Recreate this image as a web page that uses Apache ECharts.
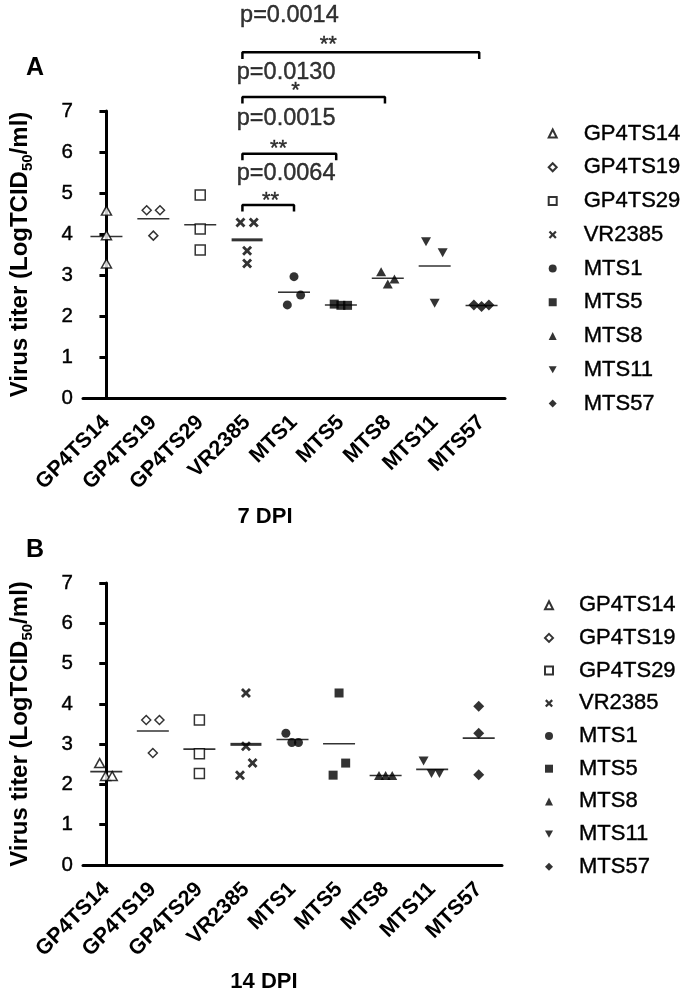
<!DOCTYPE html>
<html><head><meta charset="utf-8">
<script src="https://cdn.jsdelivr.net/npm/echarts@6/dist/echarts.min.js"></script>
<style>html,body{margin:0;padding:0;background:#fff}#c{width:691px;height:997px}</style>
</head><body><div id="c"></div>
<script>
const categories = ['GP4TS14','GP4TS19','GP4TS29','VR2385','MTS1','MTS5','MTS8','MTS11','MTS57'];
const yMin = 0, yMax = 7, yStep = 1;

// 7 DPI (panel A) values, log TCID50/ml
const a_GP4TS14 = [4.57, 3.97, 3.28];
const a_GP4TS19 = [4.58, 4.58, 3.96];
const a_GP4TS29 = [4.95, 4.12, 3.61];
const a_VR2385  = [4.28, 4.28, 3.59, 3.28];
const a_MTS1    = [2.96, 2.51, 2.27];
const a_MTS5    = [2.29, 2.26, 2.26];
const a_MTS8    = [3.08, 2.78, 2.90];
const a_MTS11   = [3.81, 3.54, 2.31];
const a_MTS57   = [2.27, 2.23, 2.27];

// 14 DPI (panel B) values
const b_GP4TS14 = [2.53, 2.21, 2.21];
const b_GP4TS19 = [3.60, 3.60, 2.78];
const b_GP4TS29 = [3.60, 2.76, 2.27];
const b_VR2385  = [4.27, 2.95, 2.53, 2.23];
const b_MTS1    = [3.27, 3.04, 3.04];
const b_MTS5    = [4.27, 2.53, 2.23];
const b_MTS8    = [2.22, 2.22, 2.22];
const b_MTS11   = [2.58, 2.27, 2.27];
const b_MTS57   = [3.94, 3.27, 2.24];

// significance annotations (panel A), VR2385 vs others
const sigFrom = 'VR2385';
const sigTo = ['MTS1', 'MTS5', 'MTS8', 'MTS57'];
const sigP = ['p=0.0064', 'p=0.0015', 'p=0.0130', 'p=0.0014'];
const sigStars = ['**', '**', '*', '**'];

// ---- layout (not data) ----
const valuesA = [a_GP4TS14,a_GP4TS19,a_GP4TS29,a_VR2385,a_MTS1,a_MTS5,a_MTS8,a_MTS11,a_MTS57];
const valuesB = [b_GP4TS14,b_GP4TS19,b_GP4TS29,b_VR2385,b_MTS1,b_MTS5,b_MTS8,b_MTS11,b_MTS57];
// horizontal spreading of points within a column (in slots)
const spreadA = [[0,0,0],[-1,1,0],[0,0,0],[-1,1,0,0],[0,1,-1],[-1,0,1],[-1,0,1],[-1.3,1.2,0],[-1.15,0,1.1]];
const spreadB = [[-1,-0.1,0.9],[-1,1,0],[0,0,0],[0,0,1,-0.9],[-1,-0.1,0.9],[0,1,-0.9],[-1,0,1],[-1.3,-0.1,1.1],[0,0,0]];
const SLOT = 0.142;
const bracketLevel = [4.71, 5.96, 7.34, 8.43];
const bracketEndInset = [0.0, -0.1, -0.06, -0.05];
const pLevel = [5.48, 6.82, 7.93, 9.34];
const pX = [-0.22, -0.22, -0.22, -0.15];
const starLevel = [4.81, 6.07, 7.5, 8.6];
const starX = [3.5, 3.67, 4.03, 4.73];

const FONT = 'Liberation Sans, Arial, Helvetica, sans-serif';
const XPATH = 'path://M0,2 L2,0 L5,3 L8,0 L10,2 L7,5 L10,8 L8,10 L5,7 L2,10 L0,8 L3,5 Z';
const INVTRI = 'path://M0,0 L10,0 L5,9 Z';
const symbols = ['triangle','diamond','rect',XPATH,'circle','rect','triangle',INVTRI,'diamond'];
const symSizes = [[10,9],[9,9],[10,10],[10,10],[9,9],[9,9],[10,9],[10,9],[11,11]];
const openSym = [true,true,true,false,false,false,false,false,false];
const DARK = {textBorderColor:'#000', textBorderWidth:0.4};

const mean = a => a.reduce((s,v)=>s+v,0)/a.length;

const series = [];
function addPanel(values, spread, xIdx, yIdx) {
  categories.forEach((c,i)=>{
    series.push({
      type:'scatter', name:c, xAxisIndex:xIdx, yAxisIndex:yIdx,
      symbol:symbols[i], symbolSize:symSizes[i], clip:false, z:3,
      itemStyle: openSym[i] ? {color:'#fff', borderColor:'#000', borderWidth:1.5} : {color:'#000'},
      emphasis:{disabled:true},
      data: values[i].map((v,k)=>[i + spread[i][k]*SLOT, v])
    });
  });
  series.push({
    type:'scatter', name:'mean', xAxisIndex:xIdx, yAxisIndex:yIdx, symbol:'rect', z:2,
    itemStyle:{color:'#000'}, emphasis:{disabled:true}, clip:false,
    data: values.map((arr,i)=>({value:[i, mean(arr)], symbolSize: i===3 ? [31,3] : [32,1.6]}))
  });
}
addPanel(valuesA, spreadA, 1, 0);
addPanel(valuesB, spreadB, 3, 1);

// significance brackets on panel A
const fromIdx = categories.indexOf(sigFrom);
sigTo.forEach((t,j)=>{
  const toIdx = categories.indexOf(t);
  const y = bracketLevel[j];
  const x0 = fromIdx - 0.1, x1 = toIdx + bracketEndInset[j];
  series.push({
    type:'line', name:'br'+j, xAxisIndex:1, yAxisIndex:0, clip:false, symbol:'none', silent:true,
    lineStyle:{color:'#000', width:2.5}, z:4,
    data:[[x0, y-0.16],[x0, y],[x1, y],[x1, y-0.16]]
  });
});
series.push({
  type:'scatter', name:'pvals', xAxisIndex:1, yAxisIndex:0, clip:false, symbolSize:0, silent:true,
  label:Object.assign({show:true, position:'right', distance:0, formatter:p=>p.data.t, fontSize:23.5, color:'#000', fontFamily:FONT}, DARK),
  data: sigP.map((p,j)=>({value:[fromIdx+pX[j], pLevel[j]], t:p}))
});
series.push({
  type:'scatter', name:'stars', xAxisIndex:1, yAxisIndex:0, clip:false, symbolSize:0, silent:true,
  label:Object.assign({show:true, position:'inside', formatter:p=>p.data.t, fontSize:22, color:'#000', fontFamily:FONT}, DARK),
  data: sigStars.map((s,j)=>({value:[starX[j], starLevel[j]], t:s}))
});

function catAxis(grid){
  return {type:'category', gridIndex:grid, data:categories, boundaryGap:true,
    axisLine:{lineStyle:{color:'#000', width:3}},
    axisTick:{alignWithLabel:true, length:9, lineStyle:{color:'#000', width:3}},
    axisLabel:{rotate:45, interval:0, margin:21, fontSize:21.5, fontWeight:'bold', color:'#000', fontFamily:FONT},
    splitLine:{show:false}};
}
function valAxis(grid){
  return {type:'value', gridIndex:grid, min:-0.5, max:8.5, show:false};
}
function yAxis(grid){
  return {type:'value', gridIndex:grid, min:yMin, max:yMax, interval:yStep,
    axisLine:{show:true, lineStyle:{color:'#000', width:3}},
    axisTick:{show:true, length:7, lineStyle:{color:'#000', width:3}},
    axisLabel:Object.assign({fontSize:20.5, color:'#000', margin:10, fontFamily:FONT}, DARK),
    splitLine:{show:false},
    name:'{a|Virus titer (LogTCID}{b|50}{a|/ml)}', nameLocation:'middle', nameGap:48,
    nameTextStyle:{rich:{
      a:{fontSize:24, fontWeight:'bold', color:'#000', fontFamily:FONT, lineHeight:30},
      b:{fontSize:15, fontWeight:'bold', color:'#000', fontFamily:FONT, lineHeight:30, verticalAlign:'bottom'}
    }}};
}
function legend(left, top, gap, pad){
  return {data:categories, orient:'vertical', left:left, top:top, itemWidth:8, itemHeight:8, itemGap:gap,
    selectedMode:false, padding:0,
    textStyle:Object.assign({fontSize:22, lineHeight:22, color:'#000', fontFamily:FONT, padding:[0,0,0,pad]}, DARK)};
}

const chart = echarts.init(document.getElementById('c'), null, {renderer:'canvas'});
chart.setOption({
  backgroundColor:'#fff',
  animation:false,
  grid:[
    {left:78, top:111, width:427, height:287},
    {left:78, top:583, width:424, height:282}
  ],
  xAxis:[catAxis(0), valAxis(0), catAxis(1), valAxis(1)],
  yAxis:[yAxis(0), yAxis(1)],
  legend:[legend(547.7, 122.3, 11.35, 22), legend(544, 594, 10.3, 21)],
  graphic:[
    {type:'text', x:35, y:68, style:{text:'A', fontSize:25, fontWeight:'bold', fontFamily:FONT, fill:'#000', align:'center', verticalAlign:'middle'}},
    {type:'text', x:35, y:550, style:{text:'B', fontSize:25, fontWeight:'bold', fontFamily:FONT, fill:'#000', align:'center', verticalAlign:'middle'}},
    {type:'text', x:265, y:517, style:{text:'7 DPI', fontSize:22, fontWeight:'bold', fontFamily:FONT, fill:'#000', align:'center', verticalAlign:'middle'}},
    {type:'text', x:264, y:982, style:{text:'14 DPI', fontSize:22, fontWeight:'bold', fontFamily:FONT, fill:'#000', align:'center', verticalAlign:'middle'}}
  ],
  series:series
});
</script></body></html>
